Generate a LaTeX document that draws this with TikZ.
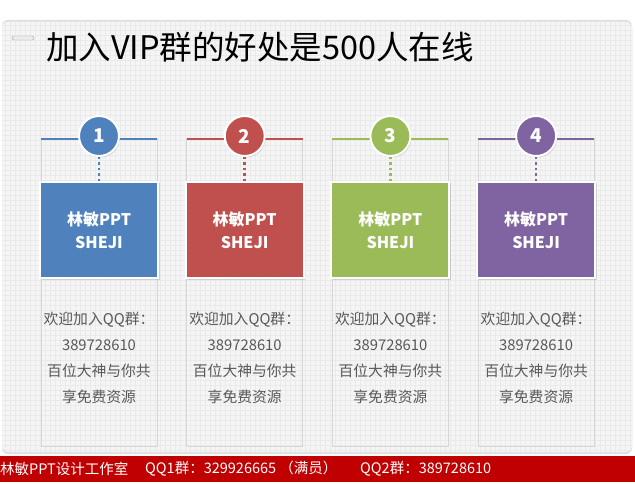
\documentclass[tikz,border=0pt]{standalone}
\usepackage{fontspec}
\setmainfont{Noto Sans CJK SC}
\usetikzlibrary{positioning,shadows}
\definecolor{colA}{HTML}{4F81BD}
\definecolor{colB}{HTML}{C0504D}
\definecolor{colC}{HTML}{9BBB59}
\definecolor{colD}{HTML}{8064A2}
\definecolor{panelbg}{HTML}{F5F5F5}
\definecolor{gridgray}{HTML}{EAEAEA}
\definecolor{framegray}{HTML}{D6D6D6}
\definecolor{infogray}{HTML}{595959}
\definecolor{barred}{HTML}{C00000}
\begin{document}
\begin{tikzpicture}[x=1pt, y=-1pt,
	numdot/.style={circle, minimum size=40pt, draw=white, line width=2pt, text=white, font=\bfseries\fontsize{19}{19}\selectfont, drop shadow={opacity=.3, shadow xshift=1pt, shadow yshift=-1.5pt}},
	colbox/.style={minimum width=118pt, minimum height=96pt, draw=white, line width=2pt, text=white, align=center, font=\bfseries\fontsize{16}{23}\selectfont, drop shadow={opacity=.3, shadow xshift=1.5pt, shadow yshift=-1.5pt}},
	infotext/.style={align=center, text=infogray, font=\fontsize{14.8}{26}\selectfont},
	bartext/.style={anchor=west, text=white, inner sep=0pt, font=\fontsize{14.5}{14.5}\selectfont}]
	\useasboundingbox (0,0) rectangle (635,484);
	\fill[white] (0,0) rectangle (635,484);
	\fill[panelbg, rounded corners=6pt, drop shadow={opacity=.25, shadow xshift=0pt, shadow yshift=2pt}] (2,22) rectangle (632,452);
	\fill[panelbg, rounded corners=6pt, drop shadow={opacity=.25, shadow xshift=0pt, shadow yshift=-2pt}] (2,22) rectangle (632,452);
	\begin{scope}
		\clip[rounded corners=6pt] (2,22) rectangle (632,452);
		\draw[gridgray, line width=.3pt, step=5pt] (2,22) grid (632,452);
	\end{scope}
	\draw[fill=gray!15, draw=gray!70, rounded corners=1.5pt] (12,36) rectangle (34,40);
	\node[font=\fontsize{32.5}{32.5}\selectfont] (title) at (260,47) {加入VIP群的好处是500人在线};
	\foreach \i/\c in {1/colA,2/colB,3/colC,4/colD}{
		\pgfmathsetmacro\cx{99+(\i-1)*145.7}
		\draw[framegray, line width=1pt] (\cx-58,139) rectangle (\cx+58,446);
		\draw[\c, line width=2.5pt] (\cx-58,139) -- (\cx+58,139);
		\node[numdot, fill=\c] (num\i) at (\cx,136) {\i};
		\node[colbox, fill=\c] (box\i) at (\cx,230) {林敏PPT\\SHEJI};
		\draw[\c, line width=2.5pt, dash pattern=on 2.5pt off 3pt] (num\i.south) -- (box\i.north);
		\node[infotext] (info\i) at (\cx,358) {欢迎加入QQ群：\\389728610\\百位大神与你共\\享免费资源};
	}
	\fill[barred] (0,456) rectangle (635,482);
	\node[bartext] (studio) at (0,469) {林敏PPT设计工作室};
	\node[bartext] (qqone) at (145,469) {QQ1群：329926665 （满员）};
	\node[bartext] (qqtwo) at (360,469) {QQ2群：389728610};
\end{tikzpicture}
\end{document}
